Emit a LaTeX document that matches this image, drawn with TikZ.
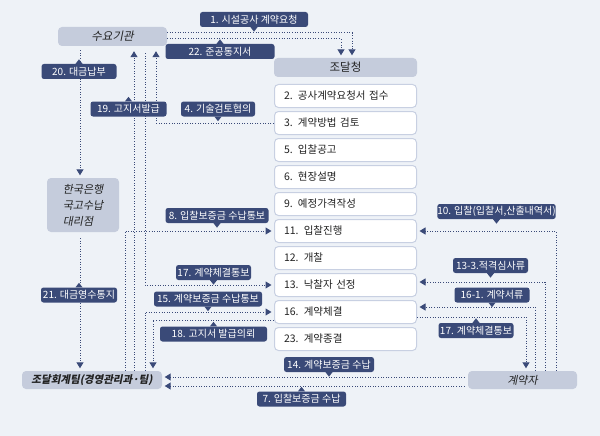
\documentclass[tikz,border=0pt]{standalone}
\usepackage{fontspec}
\setmainfont{Noto Sans CJK KR}
\newfontfamily\krsl[FakeSlant=0.2]{Noto Sans CJK KR}
\usetikzlibrary{arrows.meta,calc}
\definecolor{bg}{HTML}{EEF2F7}
\definecolor{navy}{HTML}{3A4A78}
\definecolor{mainfill}{HTML}{C5CCDC}
\definecolor{stepline}{HTML}{C8D0E2}
\definecolor{txt}{HTML}{222222}
\tikzset{
 mainbox/.style={fill=mainfill, rounded corners=4pt, inner sep=0pt, text=txt, font=\fontsize{11.5}{13}\selectfont},
 stepbox/.style={fill=white, draw=stepline, line width=1pt, rounded corners=4pt, minimum height=23pt, text width=123pt, inner xsep=9.5pt, inner ysep=0pt, align=left, text=txt, font=\fontsize{10.5}{12}\selectfont},
 lbl/.style={fill=navy, rounded corners=2.5pt, minimum height=15pt, inner sep=0pt, text=white, font=\fontsize{10}{11}\selectfont},
 conn/.style={navy, line width=1pt, dash pattern=on 1pt off 1.6pt},
 tip/.style={-{Triangle[width=7pt,length=6pt]}, shorten >=2.5pt},
}
\newcommand\lbldown[5]{\node[lbl, minimum width=#4] (#1) at (#2,#3) {#5};
 \fill[navy] ([xshift=-3.5pt]#1.south) -- ([xshift=3.5pt]#1.south) -- ([yshift=-4.5pt]#1.south) -- cycle;}
\newcommand\lblup[5]{\node[lbl, minimum width=#4] (#1) at (#2,#3) {#5};
 \fill[navy] ([xshift=-3.5pt]#1.north) -- ([xshift=3.5pt]#1.north) -- ([yshift=4.5pt]#1.north) -- cycle;}
\begin{document}
\begin{tikzpicture}[x=1pt,y=-1pt]
\fill[bg] (0,0) rectangle (600,436);
\useasboundingbox (0,0) rectangle (600,436);
% main boxes
\node[mainbox, minimum width=109pt, minimum height=19pt] (sy) at (112.5,36.5) {\krsl 수요기관};
\node[mainbox, minimum width=143pt, minimum height=19pt] (jd) at (345.5,67.5) {조달청};
\node[mainbox, minimum width=72pt, minimum height=54pt, align=left, font=\fontsize{11}{16}\selectfont] (hb) at (83,205) {\krsl 한국은행\\\krsl 국고수납\\\krsl 대리점};
\node[mainbox, minimum width=140pt, minimum height=18pt, font=\fontsize{10.5}{12}\selectfont] (jh) at (92,380) {\krsl\bfseries 조달회계팀(경영관리과·팀)};
\node[mainbox, minimum width=109pt, minimum height=18pt, font=\fontsize{11}{12}\selectfont] (gy) at (522.5,380) {\krsl 계약자};
% step boxes
\node[stepbox] (s2) at (345.5,96) {2. 공사계약요청서 접수};
\node[stepbox] (s3) at (345.5,123) {3. 계약방법 검토};
\node[stepbox] (s5) at (345.5,150) {5. 입찰공고};
\node[stepbox] (s6) at (345.5,177) {6. 현장설명};
\node[stepbox] (s9) at (345.5,204) {9. 예정가격작성};
\node[stepbox] (s11) at (345.5,231) {11. 입찰진행};
\node[stepbox] (s12) at (345.5,258) {12. 개찰};
\node[stepbox] (s13) at (345.5,285) {13. 낙찰자 선정};
\node[stepbox] (s16) at (345.5,312) {16. 계약체결};
\node[stepbox] (s23) at (345.5,339) {23. 계약종결};
% lane coordinates
\coordinate (x80) at (80,0);
\coordinate (x125) at (125,0);
\coordinate (x134) at (134,0);
\coordinate (x145) at (145,0);
\coordinate (x153) at (153,0);
\coordinate (x156) at (156,0);
\coordinate (x341) at (341,0);
\coordinate (x352) at (352,0);
\coordinate (x526) at (526,0);
\coordinate (x535) at (535,0);
\coordinate (x545) at (545,0);
\coordinate (x556) at (556,0);
% connectors
\draw[conn,tip] ([yshift=3.5pt]sy.east) -| (x352 |- jd.north);
\draw[conn,tip] ([yshift=-2.5pt]sy.east) -| (x341 |- jd.north);
\draw[conn,tip, shorten <=4pt] (sy.south -| x80) -- (hb.north -| x80);
\draw[conn,tip, shorten <=6pt] (hb.south -| x80) -- (jh.north -| x80);
\draw[conn,tip, shorten >=5pt] (jh.north -| x134) -- (sy.south -| x134);
\draw[conn,tip, shorten <=7pt] (sy.south -| x145) |- (s13.west);
\draw[conn,tip, shorten >=5pt] (s3.west) -| (sy.south -| x156);
\draw[conn,tip] (jh.north -| x125) |- (s11.west);
\draw[conn,tip] (jh.north -| x145) |- (s16.west);
\draw[conn,tip] ([yshift=-8pt]s16.west) -| (jh.north -| x153);
\draw[conn,tip] (gy.north -| x556) |- (s11.east);
\draw[conn,tip] (gy.north -| x545) |- ([yshift=3pt]s13.east);
\draw[conn,tip] (gy.north -| x535) |- ([yshift=5pt]s16.east);
\draw[conn,tip] ([yshift=-5pt]s16.east) -| (gy.north -| x526);
\draw[conn,tip, shorten <=3pt] ([yshift=3pt]gy.west) -- ([yshift=3pt]jh.east);
\draw[conn,tip, shorten <=3pt] ([yshift=-6pt]gy.west) -- ([yshift=-6pt]jh.east);
% labels
\lbldown{L1}{254}{19.5}{108pt}{1. 시설공사 계약요청}
\lblup{L22}{220}{51.5}{109pt}{22. 준공통지서}
\lblup{L20}{79}{71.5}{75pt}{20. 대금납부}
\lblup{L19}{128.5}{109}{76pt}{19. 고지서발급}
\lbldown{L4}{218}{109}{74pt}{4. 기술검토협의}
\lbldown{L8}{217}{215.5}{103pt}{8. 입찰보증금 수납통보}
\lbldown{L17a}{213.5}{272.5}{75pt}{17. 계약체결통보}
\lbldown{L15}{208}{299}{108pt}{15. 계약보증금 수납통보}
\lblup{L18}{213.5}{334}{107pt}{18. 고지서 발급의뢰}
\lblup{L21}{79}{295}{76pt}{21. 대금영수통지}
\lbldown{L14}{329}{364.5}{90pt}{14. 계약보증금 수납}
\lblup{L7}{301.5}{399}{89pt}{7. 입찰보증금 수납}
\lbldown{L10}{496.5}{211.5}{118pt}{10. 입찰(입찰서,산출내역서)}
\lbldown{L133}{490.5}{265.5}{75pt}{13-3.적격심사류}
\lbldown{L161}{492}{295}{75pt}{16-1. 계약서류}
\lblup{L17b}{476}{330.5}{75pt}{17. 계약체결통보}
\end{tikzpicture}
\end{document}
